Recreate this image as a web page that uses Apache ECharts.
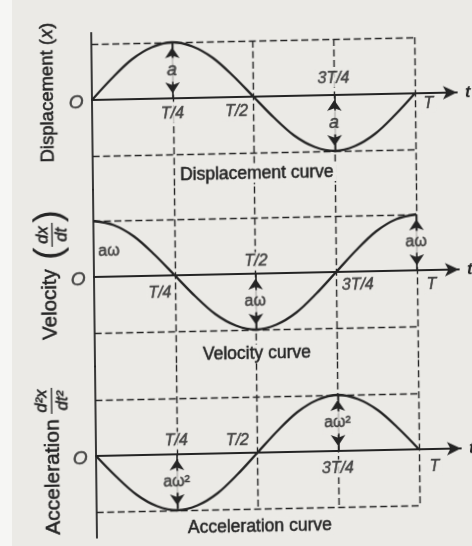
<!DOCTYPE html>
<html>
<head>
<meta charset="utf-8">
<title>Displacement, velocity and acceleration curves of SHM</title>
<script src="https://cdn.jsdelivr.net/npm/echarts/dist/echarts.min.js"></script>
<style>
  html, body { margin: 0; padding: 0; width: 472px; height: 546px; overflow: hidden; background: #ebeae6; }
  #edge { position: absolute; left: 0; top: 0; width: 12px; height: 546px; background: #f6f6f4; }
  /* the printed plate sits slightly askew on the page */
  #chart { position: absolute; left: 0; top: 0; width: 472px; height: 546px;
           transform-origin: 92px 100px; transform: matrix(1, -0.0207, 0.0114, 1, 0, 0); }
</style>
</head>
<body>
<div id="edge"></div>
<div id="chart"></div>
<script>
// ---- curve data: one period, sampled every T/16 (t in units of T) ----
const timeSteps = [0, 0.0625, 0.125, 0.1875, 0.25, 0.3125, 0.375, 0.4375, 0.5,
                   0.5625, 0.625, 0.6875, 0.75, 0.8125, 0.875, 0.9375, 1];
const displacement = [0, 0.38, 0.71, 0.92, 1, 0.92, 0.71, 0.38, 0,
                      -0.38, -0.71, -0.92, -1, -0.92, -0.71, -0.38, 0];
const velocity = [1, 0.92, 0.71, 0.38, 0, -0.38, -0.71, -0.92, -1,
                  -0.92, -0.71, -0.38, 0, 0.38, 0.71, 0.92, 1];
const acceleration = [0, -0.38, -0.71, -0.92, -1, -0.92, -0.71, -0.38, 0,
                      0.38, 0.71, 0.92, 1, 0.92, 0.71, 0.38, 0];

// ---- marks along the time axis ----
const quarterTimes = [0.25, 0.5, 0.75, 1];
const quarterLabels = ['T/4', 'T/2', '3T/4', 'T'];

// ---- amplitude arrows: where they stand and which peak they reach ----
const amplitudeLabels = ['a', 'aω', 'aω²'];
const arrowTimes = [[0.25, 0.75], [0.5, 1], [0.25, 0.75]];
const arrowPeaks = [[1, -1], [-1, 1], [-1, 1]];

const curveCaptions = ['Displacement curve', 'Velocity curve', 'Acceleration curve'];
const originLabel = 'O';
const timeAxisName = 't';

// ---- layout ----
const PAPER = '#ebeae6';
const INK = '#242424';
const FONT = '"Liberation Sans", Arial, Helvetica, sans-serif';
const HEAVY = { textBorderColor: INK, textBorderWidth: 0.5 };   // printed ink is a touch heavy
const UNIT_Y = 56;          // px per amplitude unit
const UNIT_T = 323;         // px per period
const LEFT = 92;
const T_END = 1.13;         // axis runs a little past T, arrow head beyond
const zeroY = [100, 277, 456];
const yExtent = [[-1.6, 1.2], [-1.6, 1.56], [-1.46, 1.6]];
const curves = [displacement, velocity, acceleration];

// quarter-label placement per panel: [dx, dy, align]
const tickPlacement = [
  [[0, 16, 'center'], [-3, 15, 'right'], [0, -16, 'center'], [7, 11, 'left']],
  [[-1, 18, 'right'], [1, -12, 'center'], [4, 14, 'left'], [8, 15, 'left']],
  [[0, -13, 'center'], [-6, -12, 'right'], [0, 18, 'center'], [9, 18, 'left']]
];
// vertical guide extents per panel (in amplitude units)
const guideSpan = [[1, yExtent[0][0]], [yExtent[1][1], yExtent[1][0]], [yExtent[2][1], -1]];

const grids = [], xAxes = [], yAxes = [], series = [];

function labelStyle(extra) {
  return Object.assign({ show: true, color: INK, fontFamily: FONT, verticalAlign: 'middle' }, HEAVY, extra);
}

[0, 1, 2].forEach(function (i) {
  const yMin = yExtent[i][0], yMax = yExtent[i][1];
  grids.push({
    left: LEFT, width: T_END * UNIT_T,
    top: zeroY[i] - yMax * UNIT_Y, height: (yMax - yMin) * UNIT_Y,
    containLabel: false, outerBoundsMode: 'none'
  });
  xAxes.push({
    gridIndex: i, type: 'value', min: 0, max: T_END,
    axisLine: { show: true, onZero: true, symbol: ['none', 'arrow'], symbolSize: [10, 14],
                lineStyle: { color: INK, width: 1.8 } },
    axisTick: { show: false }, axisLabel: { show: false }, splitLine: { show: false },
    name: timeAxisName, nameLocation: 'end', nameGap: 8,
    nameTextStyle: { color: INK, fontFamily: FONT, fontSize: 17, fontStyle: 'italic', fontWeight: 'bold',
                     verticalAlign: 'middle', padding: [0, 0, 4, 0] }
  });
  yAxes.push({
    gridIndex: i, type: 'value', min: yMin, max: yMax,
    axisLine: { show: true, onZero: false, lineStyle: { color: INK, width: 1.8 } },
    axisTick: { show: false }, axisLabel: { show: false }, splitLine: { show: false }
  });

  // the curve itself
  series.push({
    type: 'line', xAxisIndex: i, yAxisIndex: i, silent: true, clip: false,
    data: timeSteps.map(function (t, k) { return [t, curves[i][k]]; }),
    smooth: 0.33, showSymbol: false, symbol: 'none', z: 5,
    lineStyle: { color: INK, width: 2.3 }
  });

  // dashed guides: amplitude levels and quarter-period verticals
  const guides = [
    [{ coord: [0, 1] }, { coord: [1, 1] }],
    [{ coord: [0, -1] }, { coord: [1, -1] }]
  ];
  quarterTimes.forEach(function (t) {
    guides.push([{ coord: [t, guideSpan[i][0]] }, { coord: [t, guideSpan[i][1]] }]);
  });
  series.push({
    type: 'scatter', xAxisIndex: i, yAxisIndex: i, data: [], silent: true, z: 2,
    markLine: {
      silent: true, animation: false, symbol: ['none', 'none'],
      label: { show: false }, emphasis: { disabled: true },
      lineStyle: { color: INK, width: 1.4, type: [7, 3.5] },
      data: guides
    }
  });

  // double-headed amplitude arrows
  series.push({
    type: 'scatter', xAxisIndex: i, yAxisIndex: i, data: [], silent: true, z: 6,
    markLine: {
      silent: true, animation: false, symbol: ['arrow', 'arrow'],
      symbolSize: 11, symbolOffset: [[0, 5], [0, 5]],
      label: { show: false }, emphasis: { disabled: true },
      lineStyle: { color: INK, width: 1.6, type: 'solid' },
      data: arrowTimes[i].map(function (t, k) {
        return [{ coord: [t, 0] }, { coord: [t, arrowPeaks[i][k]] }];
      })
    }
  });

  // text marks placed on the panel's own scales
  const items = [];
  items.push({
    value: [0, 0],
    label: labelStyle({ formatter: function () { return originLabel; }, position: [-8, 3], align: 'right',
                        fontSize: 19, fontStyle: 'italic' })
  });
  quarterTimes.forEach(function (t, k) {
    const p = tickPlacement[i][k];
    items.push({
      value: [t, 0],
      label: labelStyle({ formatter: function () { return quarterLabels[k]; }, position: [p[0], p[1]],
                          align: p[2], fontSize: 16, fontStyle: 'italic',
                          backgroundColor: PAPER, padding: [1, 2] })
    });
  });
  arrowTimes[i].forEach(function (t, k) {
    items.push({
      value: [t, arrowPeaks[i][k] * 0.5],
      label: labelStyle({ formatter: function () { return amplitudeLabels[i]; }, position: [0, 0],
                          align: 'center', fontSize: i === 0 ? 18 : 16,
                          fontStyle: i === 0 ? 'italic' : 'normal',
                          backgroundColor: PAPER, padding: [3, 1] })
    });
  });
  if (i === 1) {
    items.push({
      value: [0, 0.45],
      label: labelStyle({ formatter: function () { return amplitudeLabels[1]; }, position: [5, 0],
                          align: 'left', fontSize: 16 })
    });
  }
  series.push({
    type: 'scatter', xAxisIndex: i, yAxisIndex: i, silent: true, clip: false, z: 10,
    symbol: 'circle', symbolSize: 1, itemStyle: { color: 'rgba(0,0,0,0)' },
    label: labelStyle({}),
    data: items
  });
});

// ---- captions and rotated panel titles ----
function textStyle(extra) {
  return Object.assign({ fill: INK, fontFamily: FONT, align: 'center', verticalAlign: 'middle',
                         stroke: INK, lineWidth: 0.5 }, extra);
}
const captionPos = [[256, 177], [254, 357], [255, 530]];
const graphics = curveCaptions.map(function (c, i) {
  return {
    type: 'text', x: captionPos[i][0], y: captionPos[i][1], z: 100,
    style: textStyle({ text: c, fontSize: 17.5, backgroundColor: PAPER, padding: [0, 3] })
  };
});

// rotated titles read bottom-to-top; children are laid out along local x
graphics.push({
  type: 'group', x: 47.6, y: 161.5, rotation: Math.PI / 2, z: 100,
  children: [
    { type: 'text', x: 0, y: 0, style: textStyle({ text: 'Displacement (', fontSize: 18.5, align: 'left' }) },
    { type: 'text', x: 124, y: 0, style: textStyle({ text: 'x', fontSize: 18.5, fontStyle: 'italic', align: 'left' }) },
    { type: 'text', x: 133.5, y: 0, style: textStyle({ text: ')', fontSize: 18.5, align: 'left' }) }
  ]
});

function fractionTitle(gx, gy, word, wordSize, fr) {
  const kids = [
    { type: 'text', x: 0, y: 0, style: textStyle({ text: word, fontSize: wordSize, align: 'left' }) },
    { type: 'text', x: fr.c, y: fr.num[1], style: textStyle({ text: fr.num[0], fontSize: fr.size,
        fontStyle: 'italic' }) },
    { type: 'line', shape: { x1: fr.c - fr.half, y1: fr.bar, x2: fr.c + fr.half, y2: fr.bar },
      style: { stroke: INK, lineWidth: 1.3 } },
    { type: 'text', x: fr.c, y: fr.den[1], style: textStyle({ text: fr.den[0], fontSize: fr.size,
        fontStyle: 'italic' }) }
  ];
  if (fr.parens) {
    kids.push({ type: 'text', x: fr.parens[0], y: 0, style: textStyle({ text: '(', fontSize: 38,
                align: 'left', lineWidth: 0 }) });
    kids.push({ type: 'text', x: fr.parens[1], y: 0, style: textStyle({ text: ')', fontSize: 38,
                align: 'right', lineWidth: 0 }) });
  }
  return { type: 'group', x: gx, y: gy, rotation: Math.PI / 2, z: 100, children: kids };
}
graphics.push(fractionTitle(48.5, 339, 'Velocity', 20.5,
  { c: 105, half: 12, bar: 2, size: 16.5, num: ['dx', -7], den: ['dt', 12], parens: [80, 130] }));
graphics.push(fractionTitle(49.2, 534, 'Acceleration', 21,
  { c: 134, half: 13, bar: -1, size: 16.5, num: ['d²x', -11], den: ['dt²', 10] }));

const chart = echarts.init(document.getElementById('chart'), null, { renderer: 'canvas' });
chart.setOption({
  animation: false,
  backgroundColor: 'transparent',
  grid: grids,
  xAxis: xAxes,
  yAxis: yAxes,
  series: series,
  graphic: { elements: graphics }
});
</script>
</body>
</html>
